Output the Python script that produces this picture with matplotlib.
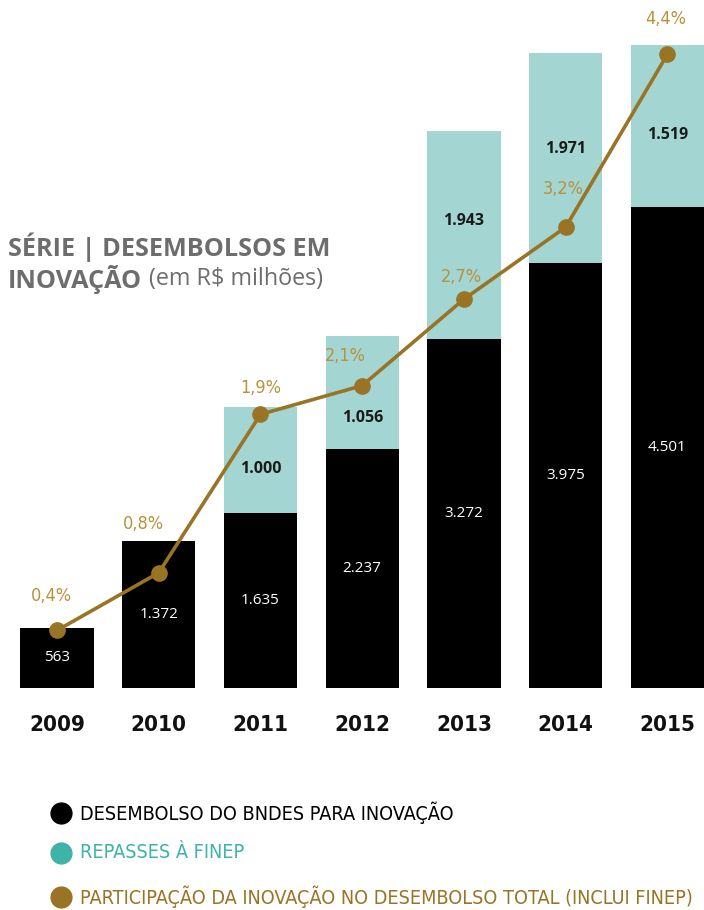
import matplotlib
matplotlib.use("Agg")
import matplotlib.pyplot as plt
from matplotlib.lines import Line2D
import numpy as np

years = ["2009", "2010", "2011", "2012", "2013", "2014", "2015"]
bndes = [563, 1372, 1635, 2237, 3272, 3975, 4501]
finep = [0, 0, 1000, 1056, 1943, 1971, 1519]
share = [0.4, 0.8, 1.9, 2.1, 2.7, 3.2, 4.4]
share_labels = ["0,4%", "0,8%", "1,9%", "2,1%", "2,7%", "3,2%", "4,4%"]
legend_labels = ["DESEMBOLSO DO BNDES PARA INOVAÇÃO",
                 "REPASSES À FINEP",
                 "PARTICIPAÇÃO DA INOVAÇÃO NO DESEMBOLSO TOTAL (INCLUI FINEP)"]

def fmt(v):
    return f"{v:,}".replace(",", ".")

BLACK = "#000000"
TEAL = "#a3d5d3"
TEAL_DARK = "#3fb3a8"
GOLD = "#9a7425"
GOLD_TXT = "#b8923a"
GREY = "#6d6d6d"

fig = plt.figure(figsize=(7.04, 9.10), dpi=100)
ax = fig.add_axes([0, 222 / 910, 1, 688 / 910])
x = np.arange(len(years))
w = 0.72
ax.bar(x, bndes, width=w, color=BLACK, zorder=2)
ax.bar(x, finep, width=w, bottom=bndes, color=TEAL, zorder=2)
ax.set_xlim(-0.56, 6.36)
ax.set_ylim(0, 6442)
ax.axis("off")

cond = dict(family="DejaVu Sans", fontstretch="condensed")

# value labels
for i in range(len(years)):
    ax.text(x[i], bndes[i] / 2, fmt(bndes[i]), ha="center", va="center",
            color="white", fontsize=11, family="Open Sans", zorder=5)
teal_off = [0, 0, -9, -25, 14, 9, -9]
for i in range(len(years)):
    if finep[i] > 0:
        ax.annotate(fmt(finep[i]), (x[i], bndes[i] + finep[i] / 2),
                    xytext=(0, teal_off[i] * 0.72), textcoords="offset points",
                    ha="center", va="center", color="#1a1a1a", fontsize=11.5,
                    fontweight="bold", family="Open Sans", zorder=5)

# share line on secondary scale
ax2 = ax.twinx()
ax2.set_ylim(0, 688 / 144)
ax2.axis("off")
ax2.plot(x, share, color=GOLD, lw=2.6, marker="o", ms=11, zorder=6)
lbl_off = [(-6, 34), (-15, 49), (0, 26), (-17, 30), (-2, 22), (-2, 38), (-2, 35)]
for i in range(len(years)):
    dx, dy = lbl_off[i]
    ax2.annotate(share_labels[i], (x[i], share[i]), xytext=(dx * 0.72, dy * 0.72),
                 textcoords="offset points", ha="center", va="center",
                 color=GOLD_TXT, fontsize=13, zorder=7, **cond)

# year labels
for i, yr in enumerate(years):
    xd = ax.transData.transform((x[i], 0))[0]
    fig.text(xd / 704, 1 - 725 / 910, yr,
             ha="center", va="center", fontsize=16, fontweight="bold",
             color="#111111", **cond)

# title
fig.text(8 / 704, 1 - 247 / 910, "SÉRIE | DESEMBOLSOS EM", ha="left", va="center",
         fontsize=18.2, fontweight="bold", family="Open Sans", color=GREY)
t = fig.text(8 / 704, 1 - 279 / 910, "INOVAÇÃO", ha="left", va="center",
             fontsize=18.2, fontweight="bold", family="Open Sans", color=GREY)
fig.canvas.draw()
bb = t.get_window_extent()
fig.text((bb.x1 + 7) / 704, 1 - 279 / 910, "(em R$ milhões)", ha="left", va="center",
         fontsize=16.8, family="Open Sans", color=GREY)

# legend
legend_colors = [(BLACK, BLACK), (TEAL_DARK, TEAL_DARK), (GOLD, GOLD)]
ys = [813, 853, 897]
for txt, (mc, tc), yy in zip(legend_labels, legend_colors, ys):
    fig.add_artist(Line2D([61 / 704], [1 - yy / 910], transform=fig.transFigure,
                          marker="o", ms=15, color=mc, ls=""))
    fig.text(80 / 704, 1 - yy / 910, txt, ha="left", va="center",
             fontsize=14.2, color=tc, **cond)

fig.savefig("out.png", dpi=100)
